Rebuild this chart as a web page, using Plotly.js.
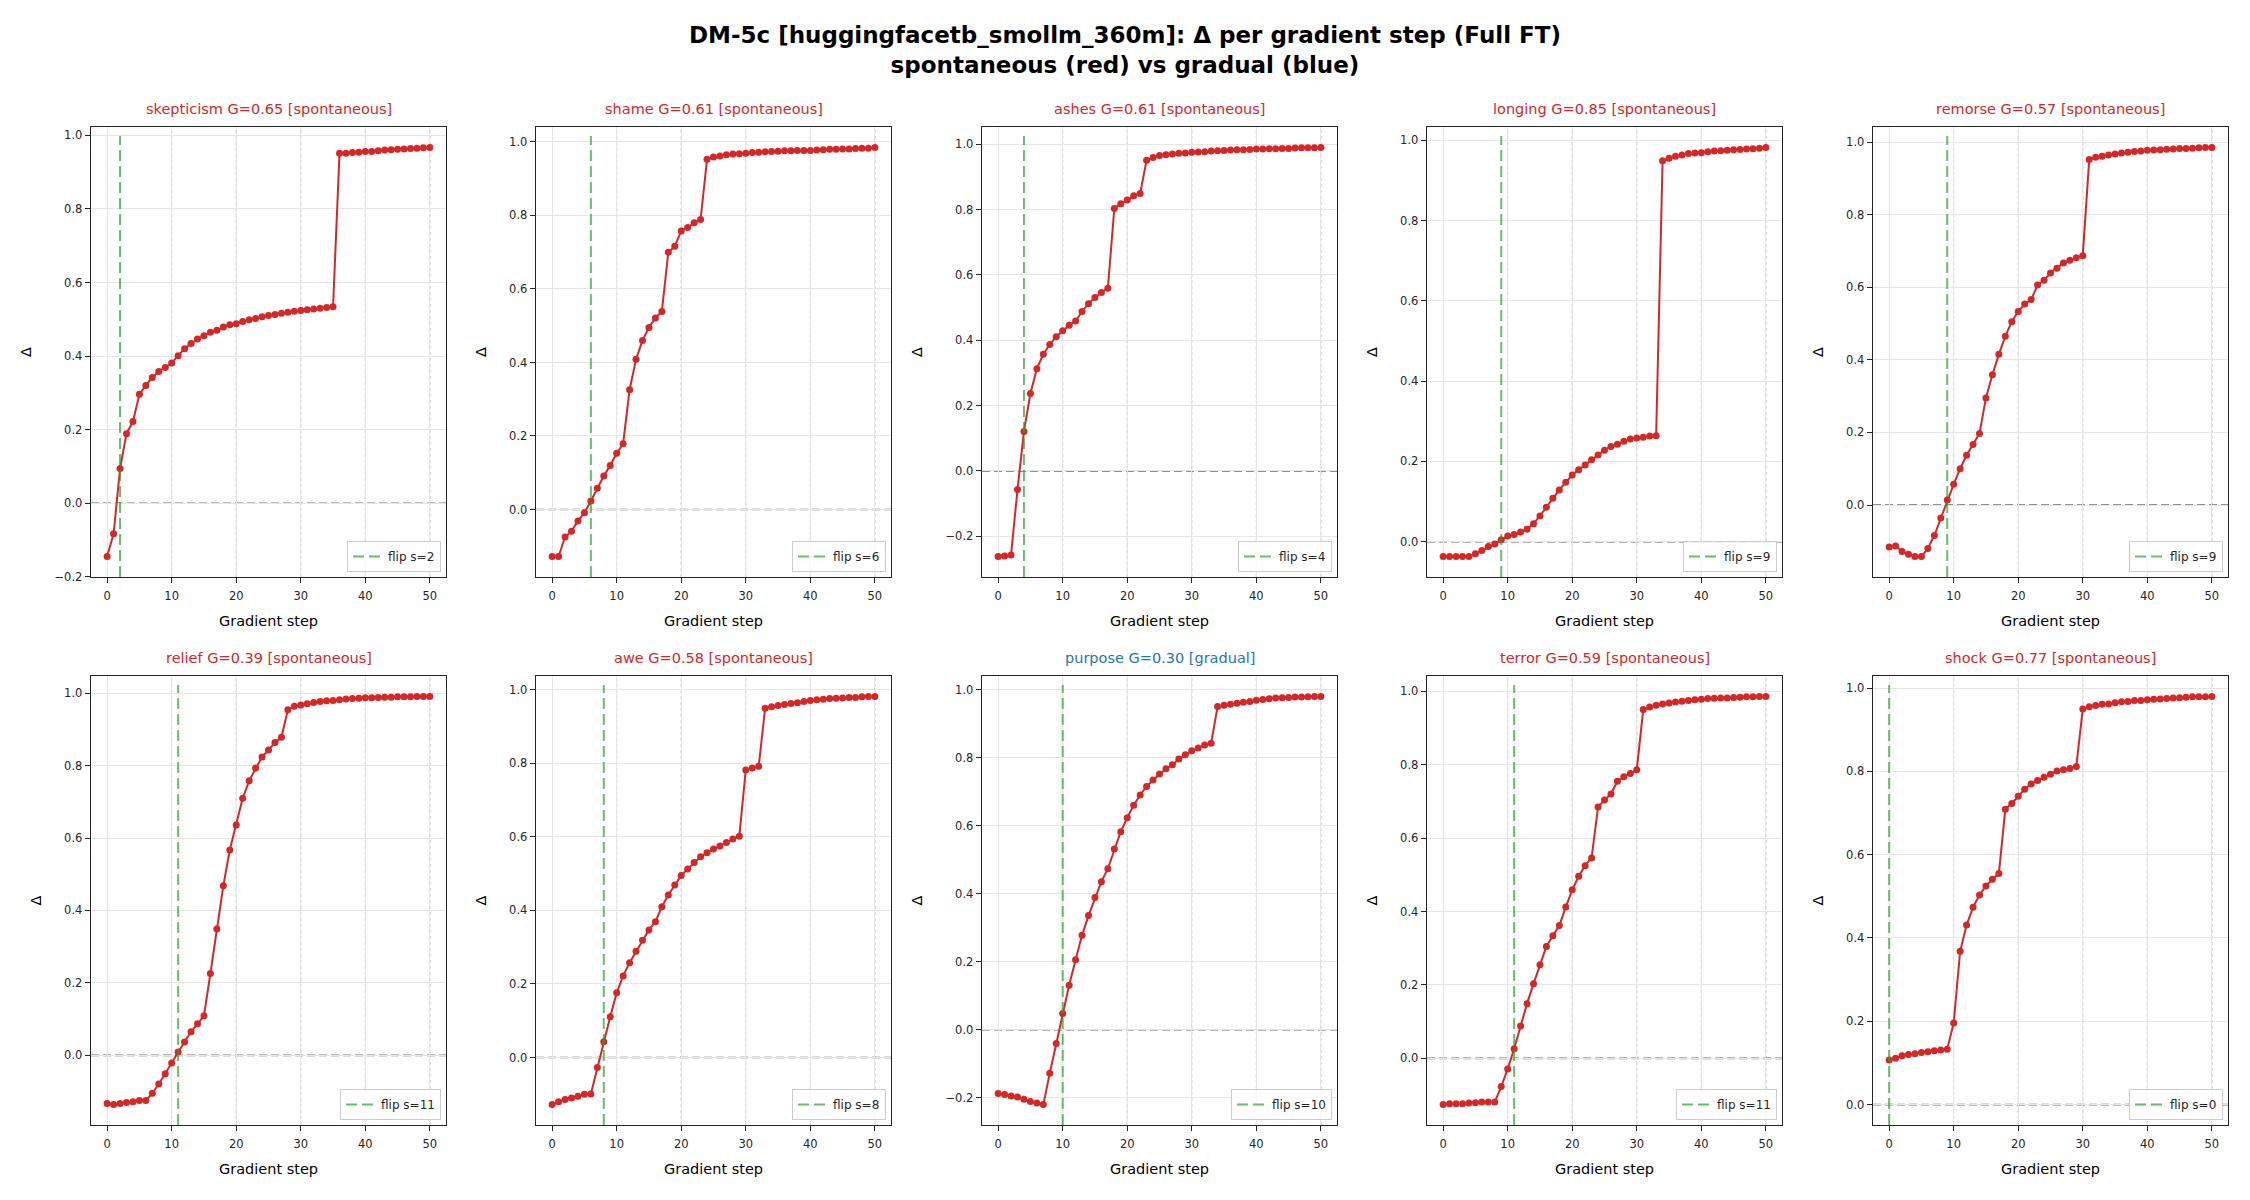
<!DOCTYPE html>
<html>
<head>
<meta charset="utf-8">
<script src="https://cdn.plot.ly/plotly-3.0.1.min.js"></script>
<style>html,body{margin:0;padding:0;background:#fff}</style>
</head>
<body>
<div id="chart" style="width:2250px;height:1200px"></div>
<script>
// Gradient steps shared by every panel
const steps = [0,1,2,3,4,5,6,7,8,9,10,11,12,13,14,15,16,17,18,19,20,21,22,23,24,25,26,27,28,29,30,31,32,33,34,35,36,37,38,39,40,41,42,43,44,45,46,47,48,49,50];

// Δ per gradient step, one array per concept
const skepticism = [-0.145,-0.083,0.094,0.189,0.222,0.296,0.320,0.342,0.358,0.369,0.381,0.401,0.420,0.434,0.446,0.455,0.465,0.470,0.479,0.485,0.488,0.494,0.499,0.502,0.507,0.510,0.513,0.516,0.519,0.522,0.524,0.526,0.528,0.530,0.532,0.534,0.951,0.951,0.953,0.954,0.956,0.956,0.958,0.960,0.961,0.962,0.963,0.964,0.965,0.966,0.967];
const shame = [-0.128,-0.128,-0.075,-0.059,-0.031,-0.009,0.023,0.058,0.091,0.120,0.153,0.179,0.326,0.409,0.460,0.495,0.521,0.539,0.700,0.716,0.758,0.767,0.780,0.789,0.953,0.959,0.962,0.965,0.967,0.968,0.969,0.971,0.972,0.973,0.974,0.975,0.976,0.976,0.977,0.977,0.977,0.978,0.979,0.980,0.980,0.981,0.981,0.982,0.983,0.983,0.985];
const ashes = [-0.262,-0.260,-0.257,-0.057,0.121,0.237,0.313,0.357,0.387,0.411,0.429,0.446,0.459,0.488,0.512,0.531,0.546,0.559,0.803,0.818,0.829,0.842,0.849,0.951,0.959,0.965,0.968,0.970,0.972,0.973,0.975,0.976,0.977,0.979,0.980,0.981,0.982,0.983,0.983,0.984,0.985,0.985,0.986,0.986,0.987,0.987,0.988,0.989,0.989,0.989,0.990];
const longing = [-0.037,-0.037,-0.037,-0.037,-0.037,-0.030,-0.022,-0.012,-0.006,0.005,0.014,0.018,0.024,0.031,0.045,0.064,0.086,0.108,0.129,0.148,0.166,0.179,0.191,0.204,0.216,0.228,0.237,0.243,0.250,0.256,0.258,0.260,0.263,0.264,0.949,0.955,0.960,0.963,0.967,0.968,0.969,0.971,0.973,0.974,0.975,0.976,0.977,0.978,0.979,0.980,0.982];
const remorse = [-0.116,-0.113,-0.128,-0.136,-0.142,-0.142,-0.120,-0.084,-0.036,0.014,0.057,0.100,0.137,0.167,0.197,0.295,0.359,0.415,0.465,0.505,0.533,0.554,0.566,0.606,0.619,0.639,0.652,0.667,0.674,0.681,0.687,0.952,0.958,0.961,0.964,0.967,0.970,0.972,0.974,0.975,0.977,0.978,0.979,0.980,0.981,0.982,0.982,0.983,0.984,0.985,0.985];
const relief = [-0.133,-0.136,-0.133,-0.130,-0.128,-0.125,-0.125,-0.105,-0.079,-0.051,-0.021,0.009,0.037,0.065,0.087,0.109,0.226,0.349,0.468,0.567,0.636,0.710,0.758,0.793,0.824,0.843,0.864,0.878,0.954,0.964,0.967,0.971,0.974,0.977,0.979,0.980,0.982,0.984,0.985,0.986,0.987,0.987,0.988,0.989,0.989,0.990,0.990,0.990,0.991,0.991,0.991];
const awe = [-0.128,-0.120,-0.114,-0.110,-0.105,-0.100,-0.099,-0.027,0.043,0.111,0.176,0.222,0.258,0.289,0.319,0.347,0.369,0.410,0.442,0.469,0.495,0.513,0.530,0.546,0.557,0.567,0.575,0.585,0.594,0.602,0.782,0.787,0.792,0.950,0.954,0.957,0.960,0.963,0.965,0.968,0.971,0.973,0.974,0.976,0.977,0.978,0.979,0.979,0.981,0.982,0.982];
const purpose = [-0.187,-0.190,-0.195,-0.198,-0.204,-0.211,-0.215,-0.220,-0.128,-0.040,0.048,0.131,0.206,0.278,0.336,0.389,0.436,0.474,0.532,0.583,0.624,0.661,0.691,0.716,0.735,0.753,0.768,0.780,0.797,0.809,0.821,0.829,0.838,0.843,0.951,0.955,0.958,0.961,0.964,0.966,0.970,0.972,0.974,0.976,0.977,0.978,0.979,0.979,0.980,0.981,0.981];
const terror = [-0.126,-0.124,-0.124,-0.124,-0.122,-0.121,-0.119,-0.119,-0.119,-0.077,-0.029,0.026,0.088,0.149,0.203,0.255,0.305,0.334,0.362,0.412,0.459,0.496,0.525,0.546,0.685,0.704,0.720,0.755,0.767,0.776,0.786,0.950,0.957,0.962,0.965,0.968,0.971,0.973,0.975,0.977,0.978,0.980,0.981,0.982,0.982,0.983,0.984,0.985,0.985,0.986,0.986];
const shock = [0.107,0.111,0.117,0.120,0.122,0.125,0.127,0.129,0.131,0.133,0.196,0.368,0.431,0.474,0.503,0.525,0.541,0.555,0.709,0.723,0.740,0.757,0.770,0.778,0.786,0.793,0.801,0.804,0.807,0.812,0.950,0.955,0.958,0.961,0.962,0.965,0.967,0.968,0.970,0.970,0.972,0.973,0.974,0.975,0.976,0.977,0.978,0.979,0.979,0.979,0.980];

// Panel metadata
const concepts = ['skepticism','shame','ashes','longing','remorse','relief','awe','purpose','terror','shock'];
const gScores = ['0.65','0.61','0.61','0.85','0.57','0.39','0.58','0.30','0.59','0.77'];
const regimes = ['spontaneous','spontaneous','spontaneous','spontaneous','spontaneous','spontaneous','spontaneous','gradual','spontaneous','spontaneous'];
const flipSteps = [2,6,4,9,9,11,8,10,11,0];
const seriesList = [skepticism,shame,ashes,longing,remorse,relief,awe,purpose,terror,shock];

// Axis ticks and checkpoint guides
const xTickVals = [0,10,20,30,40,50];
const checkpointSteps = [10,20,30,40,50];

const W = 2250, H = 1200;
const colLeft = [91, 536, 982, 1427, 1873];
const axW = 355;
const rowTop = [127, 676];
const rowBottom = [577, 1125];

const RED = '#d62728';
const titleColors = {spontaneous: '#d62728', gradual: '#1f77b4'};
const INK = '#262626';

const data = [];
const layout = {
  width: W, height: H,
  margin: {l: 0, r: 0, t: 0, b: 0},
  paper_bgcolor: '#ffffff',
  plot_bgcolor: '#ffffff',
  font: {family: 'DejaVu Sans, sans-serif', color: INK},
  showlegend: true,
  shapes: [],
  annotations: [{
    text: 'DM-5c [huggingfacetb_smollm_360m]: Δ per gradient step (Full FT)<br>spontaneous (red) vs gradual (blue)',
    xref: 'paper', yref: 'paper',
    x: 0.5, xanchor: 'center',
    y: 1 - 50 / H, yanchor: 'middle',
    showarrow: false,
    font: {family: 'DejaVu Sans, sans-serif', size: 23, weight: 700, color: '#000000'}
  }]
};

seriesList.forEach((vals, i) => {
  const r = Math.floor(i / 5), c = i % 5, n = i + 1;
  const sfx = n === 1 ? '' : String(n);
  const xr = 'x' + sfx, yr = 'y' + sfx;
  const legendId = 'legend' + sfx;

  const lo = Math.min(0, ...vals), hi = Math.max(0, ...vals);
  const pad = 0.05 * (hi - lo);

  const left = colLeft[c] / W, right = (colLeft[c] + axW) / W;
  const bottom = 1 - rowBottom[r] / H, top = 1 - rowTop[r] / H;

  layout['xaxis' + sfx] = {
    domain: [left, right], anchor: yr,
    range: [-2.5, 52.5], tickmode: 'array', tickvals: xTickVals,
    showgrid: true, gridcolor: '#e6e6e6', gridwidth: 1,
    zeroline: false,
    showline: true, mirror: true, linecolor: INK, linewidth: 1.3,
    ticks: 'outside', ticklen: 5, tickwidth: 1, tickcolor: INK,
    ticklabelstandoff: 3,
    tickfont: {size: 11.5, color: INK},
    title: {text: 'Gradient step', font: {size: 14.5, color: '#000'}, standoff: 13},
    automargin: false
  };
  layout['yaxis' + sfx] = {
    domain: [bottom, top], anchor: xr,
    range: [lo - pad, hi + pad],
    tick0: 0, dtick: 0.2, tickformat: '.1f',
    showgrid: true, gridcolor: '#e6e6e6', gridwidth: 1,
    zeroline: false,
    showline: true, mirror: true, linecolor: INK, linewidth: 1.3,
    ticks: 'outside', ticklen: 5, tickwidth: 1, tickcolor: INK,
    tickfont: {size: 11.5, color: INK},
    title: {text: 'Δ', font: {size: 14.5, color: '#000'}, standoff: 19},
    automargin: false
  };

  // Δ curve
  data.push({
    type: 'scatter', mode: 'lines+markers',
    x: steps, y: vals, xaxis: xr, yaxis: yr,
    line: {color: RED, width: 2},
    marker: {color: RED, size: 7},
    showlegend: false, hoverinfo: 'x+y'
  });

  // dotted checkpoint guides
  checkpointSteps.forEach(s => {
    layout.shapes.push({
      type: 'line', layer: 'below',
      xref: xr, x0: s, x1: s,
      yref: yr + ' domain', y0: 0, y1: 1,
      line: {color: '#a8a8a8', width: 1, dash: 'dot'}
    });
  });

  // Δ = 0 reference
  layout.shapes.push({
    type: 'line', layer: 'below',
    xref: xr + ' domain', x0: 0, x1: 1,
    yref: yr, y0: 0, y1: 0,
    line: {color: '#6e6e6e', width: 1.6, dash: '8px,4px'}
  });

  // flip step marker (also the legend entry)
  layout.shapes.push({
    type: 'line', layer: 'above',
    xref: xr, x0: flipSteps[i], x1: flipSteps[i],
    yref: yr + ' domain', y0: 0, y1: 0.98,
    line: {color: 'rgba(44,160,44,0.7)', width: 2, dash: '11px,5px'},
    showlegend: true, legend: legendId, name: 'flip s=' + flipSteps[i]
  });

  layout[legendId] = {
    x: (colLeft[c] + axW - 5) / W, xanchor: 'right',
    y: 1 - (rowBottom[r] - 5) / H, yanchor: 'bottom',
    bgcolor: 'rgba(255,255,255,0.8)', bordercolor: '#cccccc', borderwidth: 1,
    font: {size: 12, color: INK}, itemwidth: 30
  };

  // panel title
  layout.annotations.push({
    text: concepts[i] + ' G=' + gScores[i] + ' [' + regimes[i] + ']',
    xref: 'paper', yref: 'paper',
    x: (left + right) / 2, xanchor: 'center',
    y: 1 - (rowTop[r] - 18) / H, yanchor: 'middle',
    showarrow: false,
    font: {size: 14.5, color: titleColors[regimes[i]]}
  });
});

Plotly.newPlot('chart', data, layout, {displayModeBar: false, staticPlot: true});
</script>
</body>
</html>
